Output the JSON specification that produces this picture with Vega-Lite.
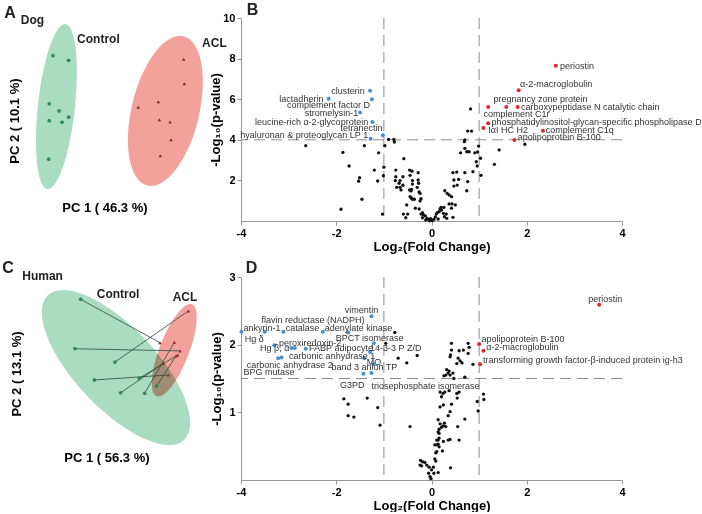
{
  "$schema": "https://vega.github.io/schema/vega-lite/v6.json",
  "padding": {"left": 2, "top": 2, "right": 0, "bottom": 0},
  "background": "white",
  "config": {
    "font": "Liberation Sans",
    "view": {"stroke": null},
    "axis": {
      "grid": false, "domainColor": "#999999", "tickColor": "#999999", "tickSize": 4,
      "labelFont": "Liberation Sans", "labelFontSize": 11, "labelFontWeight": "bold", "labelColor": "#000000", "labelPadding": 2, "labelFlush": false,
      "titleFont": "Liberation Sans", "titleFontSize": 13, "titleFontWeight": "bold", "titleColor": "#000000"
    }
  },
  "datasets": {
    "dogPCA": [
      {"group": "Control", "pc1": -3.76, "pc2": 2.85}, {"group": "Control", "pc1": -2.91, "pc2": 2.58},
      {"group": "Control", "pc1": -3.96, "pc2": 0.10}, {"group": "Control", "pc1": -3.43, "pc2": -0.31},
      {"group": "Control", "pc1": -3.96, "pc2": -0.87}, {"group": "Control", "pc1": -3.27, "pc2": -0.96},
      {"group": "Control", "pc1": -2.91, "pc2": -0.67}, {"group": "Control", "pc1": -3.99, "pc2": -3.07},
      {"group": "ACL", "pc1": 3.31, "pc2": 2.64}, {"group": "ACL", "pc1": 3.34, "pc2": 1.25},
      {"group": "ACL", "pc1": 1.94, "pc2": 0.22}, {"group": "ACL", "pc1": 0.85, "pc2": -0.10},
      {"group": "ACL", "pc1": 1.99, "pc2": -0.81}, {"group": "ACL", "pc1": 2.57, "pc2": -0.94},
      {"group": "ACL", "pc1": 2.62, "pc2": -1.95}, {"group": "ACL", "pc1": 2.04, "pc2": -2.87}
    ],
    "dogEllipse": [
      {"group": "Control", "pc1": -3.57, "pc2": -0.06},
      {"group": "ACL", "pc1": 2.32, "pc2": -0.31}
    ],
    "humanPCA": [
      {"pair": 1, "group": "Control", "pc1": -2.26, "pc2": 3.67}, {"pair": 2, "group": "Control", "pc1": -2.57, "pc2": 0.73},
      {"pair": 3, "group": "Control", "pc1": -0.41, "pc2": -0.06}, {"pair": 4, "group": "Control", "pc1": -1.52, "pc2": -1.13},
      {"pair": 5, "group": "Control", "pc1": 0.91, "pc2": -1.03}, {"pair": 6, "group": "Control", "pc1": -0.10, "pc2": -1.89},
      {"pair": 7, "group": "Control", "pc1": 1.20, "pc2": -1.92}, {"pair": 8, "group": "Control", "pc1": 1.85, "pc2": -1.49},
      {"pair": 1, "group": "ACL", "pc1": 2.03, "pc2": 1.09}, {"pair": 2, "group": "ACL", "pc1": 3.11, "pc2": 0.60},
      {"pair": 3, "group": "ACL", "pc1": 3.56, "pc2": 2.98}, {"pair": 4, "group": "ACL", "pc1": 2.48, "pc2": -0.83},
      {"pair": 5, "group": "ACL", "pc1": 2.98, "pc2": 0.36}, {"pair": 6, "group": "ACL", "pc1": 2.21, "pc2": -0.14},
      {"pair": 7, "group": "ACL", "pc1": 2.80, "pc2": 1.11}, {"pair": 8, "group": "ACL", "pc1": 2.89, "pc2": 0.30}
    ],
    "humanEllipse": [
      {"group": "Control", "pc1": -0.35, "pc2": -0.39},
      {"group": "ACL", "pc1": 2.80, "pc2": 0.64}
    ],
    "dogVolcano": [
      {"fc": -2.64, "p": 3.71, "reg": "ns"}, {"fc": -1.86, "p": 3.38, "reg": "ns"}, {"fc": -1.73, "p": 2.71, "reg": "ns"},
      {"fc": -1.41, "p": 3.71, "reg": "ns"}, {"fc": -1.20, "p": 2.51, "reg": "ns"}, {"fc": -1.11, "p": 3.36, "reg": "ns"},
      {"fc": -1.13, "p": 1.97, "reg": "ns"}, {"fc": -1.51, "p": 2.13, "reg": "ns"}, {"fc": -1.53, "p": 1.96, "reg": "ns"},
      {"fc": -1.46, "p": 1.07, "reg": "ns"}, {"fc": -1.90, "p": 0.58, "reg": "ns"}, {"fc": -0.98, "p": 3.71, "reg": "ns"},
      {"fc": -0.90, "p": 4.02, "reg": "ns"}, {"fc": -0.79, "p": 4.02, "reg": "ns"}, {"fc": -0.78, "p": 3.89, "reg": "ns"},
      {"fc": -1.00, "p": 2.65, "reg": "ns"}, {"fc": -1.01, "p": 2.23, "reg": "ns"}, {"fc": -1.03, "p": 0.34, "reg": "ns"},
      {"fc": -0.75, "p": 2.51, "reg": "ns"}, {"fc": -0.75, "p": 2.18, "reg": "ns"}, {"fc": -0.76, "p": 1.99, "reg": "ns"},
      {"fc": -0.58, "p": 3.07, "reg": "ns"}, {"fc": -0.66, "p": 1.99, "reg": "ns"}, {"fc": -0.68, "p": 1.86, "reg": "ns"},
      {"fc": -0.64, "p": 1.53, "reg": "ns"}, {"fc": -0.60, "p": 2.18, "reg": "ns"}, {"fc": -0.73, "p": 1.66, "reg": "ns"},
      {"fc": -0.66, "p": 1.66, "reg": "ns"}, {"fc": -0.60, "p": 1.76, "reg": "ns"}, {"fc": -0.52, "p": 0.79, "reg": "ns"},
      {"fc": -0.50, "p": 0.34, "reg": "ns"}, {"fc": -0.59, "p": 0.34, "reg": "ns"}, {"fc": -0.54, "p": 0.16, "reg": "ns"},
      {"fc": -0.46, "p": 2.51, "reg": "ns"}, {"fc": -0.41, "p": 2.45, "reg": "ns"}, {"fc": -0.45, "p": 2.25, "reg": "ns"},
      {"fc": -0.40, "p": 1.99, "reg": "ns"}, {"fc": -0.40, "p": 1.82, "reg": "ns"}, {"fc": -0.42, "p": 1.56, "reg": "ns"},
      {"fc": -0.46, "p": 1.53, "reg": "ns"}, {"fc": -0.43, "p": 1.48, "reg": "ns"}, {"fc": -0.45, "p": 1.20, "reg": "ns"},
      {"fc": -0.42, "p": 1.12, "reg": "ns"}, {"fc": -0.40, "p": 1.07, "reg": "ns"}, {"fc": -0.36, "p": 1.07, "reg": "ns"},
      {"fc": -0.28, "p": 2.38, "reg": "ns"}, {"fc": -0.28, "p": 2.02, "reg": "ns"}, {"fc": -0.30, "p": 1.66, "reg": "ns"},
      {"fc": -0.27, "p": 1.86, "reg": "ns"}, {"fc": -0.26, "p": 1.43, "reg": "ns"}, {"fc": -0.24, "p": 1.36, "reg": "ns"},
      {"fc": -0.22, "p": 1.10, "reg": "ns"}, {"fc": -0.24, "p": 0.99, "reg": "ns"}, {"fc": -0.34, "p": 0.63, "reg": "ns"},
      {"fc": -0.26, "p": 0.59, "reg": "ns"}, {"fc": -0.22, "p": 0.34, "reg": "ns"}, {"fc": -0.19, "p": 0.16, "reg": "ns"},
      {"fc": -0.19, "p": 0.41, "reg": "ns"}, {"fc": -0.17, "p": 0.31, "reg": "ns"}, {"fc": -0.13, "p": 0.25, "reg": "ns"},
      {"fc": -0.09, "p": 0.13, "reg": "ns"}, {"fc": -0.06, "p": 0.08, "reg": "ns"}, {"fc": -0.04, "p": 0.01, "reg": "ns"},
      {"fc": 0.00, "p": 0.05, "reg": "ns"}, {"fc": 0.05, "p": 0.08, "reg": "ns"}, {"fc": 0.10, "p": 0.34, "reg": "ns"},
      {"fc": 0.12, "p": 0.41, "reg": "ns"}, {"fc": 0.16, "p": 0.46, "reg": "ns"}, {"fc": 0.18, "p": 0.59, "reg": "ns"},
      {"fc": 0.20, "p": 0.67, "reg": "ns"}, {"fc": 0.21, "p": 0.54, "reg": "ns"}, {"fc": 0.25, "p": 0.38, "reg": "ns"},
      {"fc": 0.26, "p": 0.67, "reg": "ns"}, {"fc": 0.27, "p": 0.21, "reg": "ns"}, {"fc": 0.31, "p": 0.34, "reg": "ns"},
      {"fc": 0.32, "p": 0.13, "reg": "ns"}, {"fc": 0.45, "p": 0.18, "reg": "ns"}, {"fc": 0.42, "p": 0.63, "reg": "ns"},
      {"fc": 0.37, "p": 0.84, "reg": "ns"}, {"fc": 0.28, "p": 1.49, "reg": "ns"}, {"fc": 0.33, "p": 1.36, "reg": "ns"},
      {"fc": 0.37, "p": 1.28, "reg": "ns"}, {"fc": 0.42, "p": 1.20, "reg": "ns"}, {"fc": 0.43, "p": 0.84, "reg": "ns"},
      {"fc": 0.47, "p": 2.02, "reg": "ns"}, {"fc": 0.53, "p": 2.41, "reg": "ns"}, {"fc": 0.45, "p": 2.38, "reg": "ns"},
      {"fc": 0.57, "p": 2.05, "reg": "ns"}, {"fc": 0.47, "p": 1.72, "reg": "ns"}, {"fc": 0.54, "p": 1.77, "reg": "ns"},
      {"fc": 0.50, "p": 0.79, "reg": "ns"}, {"fc": 0.61, "p": 3.36, "reg": "ns"}, {"fc": 0.69, "p": 3.91, "reg": "ns"},
      {"fc": 0.70, "p": 3.58, "reg": "ns"}, {"fc": 0.74, "p": 3.41, "reg": "ns"}, {"fc": 0.79, "p": 3.41, "reg": "ns"},
      {"fc": 0.70, "p": 2.38, "reg": "ns"}, {"fc": 0.74, "p": 1.49, "reg": "ns"}, {"fc": 0.76, "p": 1.94, "reg": "ns"},
      {"fc": 0.87, "p": 2.43, "reg": "ns"}, {"fc": 0.91, "p": 3.36, "reg": "ns"}, {"fc": 0.97, "p": 3.40, "reg": "ns"},
      {"fc": 0.94, "p": 2.92, "reg": "ns"}, {"fc": 0.96, "p": 2.71, "reg": "ns"}, {"fc": 0.99, "p": 3.69, "reg": "ns"},
      {"fc": 1.03, "p": 3.09, "reg": "ns"}, {"fc": 1.04, "p": 2.25, "reg": "ns"}, {"fc": 1.32, "p": 2.79, "reg": "ns"},
      {"fc": 1.42, "p": 3.50, "reg": "ns"}, {"fc": 1.96, "p": 3.78, "reg": "ns"}, {"fc": 0.82, "p": 5.52, "reg": "ns"},
      {"fc": 0.76, "p": 4.43, "reg": "ns"}, {"fc": 0.84, "p": 4.43, "reg": "ns"}, {"fc": 0.70, "p": 3.99, "reg": "ns"},
      {"fc": -0.12, "p": 0.05, "reg": "ns"}, {"fc": 0.02, "p": 0.02, "reg": "ns"}, {"fc": 0.08, "p": 0.20, "reg": "ns"},
      {"fc": -0.02, "p": 0.12, "reg": "ns"}, {"fc": 0.14, "p": 0.10, "reg": "ns"},
      {"protein": "clusterin", "fc": -1.29, "p": 6.42, "reg": "down"},
      {"protein": "lactadherin", "fc": -2.16, "p": 6.02, "reg": "down"},
      {"protein": "complement factor D", "fc": -1.25, "p": 6.00, "reg": "down"},
      {"protein": "stromelysin-1", "fc": -1.50, "p": 5.34, "reg": "down"},
      {"protein": "leucine-rich α-2-glycoprotein", "fc": -1.24, "p": 4.88, "reg": "down"},
      {"protein": "tetranectin", "fc": -1.02, "p": 4.22, "reg": "down"},
      {"protein": "hyaluronan & proteoglycan LP 1", "fc": -1.28, "p": 4.05, "reg": "down"},
      {"protein": "periostin", "fc": 2.61, "p": 7.65, "reg": "up"},
      {"protein": "α-2-macroglobulin", "fc": 1.83, "p": 6.44, "reg": "up"},
      {"protein": "pregnancy zone protein", "fc": 1.57, "p": 5.62, "reg": "up"},
      {"protein": "carboxypeptidase N catalytic chain", "fc": 1.81, "p": 5.62, "reg": "up"},
      {"protein": "complement C1r", "fc": 1.19, "p": 5.62, "reg": "up"},
      {"protein": "phosphatidylinositol-glycan-specific phospholipase D", "fc": 1.19, "p": 4.81, "reg": "up"},
      {"protein": "IαI HC H2", "fc": 1.09, "p": 4.58, "reg": "up"},
      {"protein": "complement C1q", "fc": 2.34, "p": 4.45, "reg": "up"},
      {"protein": "apolipoprotein B-100", "fc": 1.74, "p": 3.99, "reg": "up"}
    ],
    "dogLabels": [
      {"protein": "clusterin", "fc": -1.40, "p": 6.42, "reg": "down"},
      {"protein": "lactadherin", "fc": -2.27, "p": 6.02, "reg": "down"},
      {"protein": "complement factor D", "fc": -1.29, "p": 5.71, "reg": "down"},
      {"protein": "stromelysin-1", "fc": -1.54, "p": 5.34, "reg": "down"},
      {"protein": "leucine-rich α-2-glycoprotein", "fc": -1.33, "p": 4.88, "reg": "down"},
      {"protein": "tetranectin", "fc": -1.03, "p": 4.60, "reg": "down"},
      {"protein": "hyaluronan & proteoglycan LP 1", "fc": -1.33, "p": 4.24, "reg": "down"},
      {"protein": "periostin", "fc": 2.70, "p": 7.65, "reg": "up"},
      {"protein": "α-2-macroglobulin", "fc": 1.86, "p": 6.75, "reg": "up"},
      {"protein": "pregnancy zone protein", "fc": 1.30, "p": 6.02, "reg": "up"},
      {"protein": "carboxypeptidase N catalytic chain", "fc": 1.88, "p": 5.62, "reg": "up"},
      {"protein": "complement C1r", "fc": 1.09, "p": 5.26, "reg": "up"},
      {"protein": "phosphatidylinositol-glycan-specific phospholipase D", "fc": 1.26, "p": 4.88, "reg": "up"},
      {"protein": "IαI HC H2", "fc": 1.19, "p": 4.48, "reg": "up"},
      {"protein": "complement C1q", "fc": 2.40, "p": 4.48, "reg": "up"},
      {"protein": "apolipoprotein B-100", "fc": 1.81, "p": 4.14, "reg": "up"}
    ],
    "humanVolcano": [
      {"fc": -0.77, "p": 2.18, "reg": "ns"}, {"fc": -0.96, "p": 2.02, "reg": "ns"}, {"fc": -0.70, "p": 1.80, "reg": "ns"},
      {"fc": -0.52, "p": 1.73, "reg": "ns"}, {"fc": -0.30, "p": 1.84, "reg": "ns"}, {"fc": 0.70, "p": 1.52, "reg": "ns"},
      {"fc": 0.47, "p": 1.50, "reg": "ns"}, {"fc": 0.42, "p": 2.02, "reg": "ns"}, {"fc": 0.42, "p": 1.92, "reg": "ns"},
      {"fc": 0.40, "p": 1.85, "reg": "ns"}, {"fc": 0.39, "p": 1.82, "reg": "ns"}, {"fc": 0.77, "p": 2.02, "reg": "ns"},
      {"fc": 0.58, "p": 1.91, "reg": "ns"}, {"fc": 0.67, "p": 1.92, "reg": "ns"}, {"fc": 0.77, "p": 1.87, "reg": "ns"},
      {"fc": 0.56, "p": 1.80, "reg": "ns"}, {"fc": 0.60, "p": 1.76, "reg": "ns"}, {"fc": 0.64, "p": 1.73, "reg": "ns"},
      {"fc": 0.53, "p": 1.72, "reg": "ns"}, {"fc": 0.87, "p": 1.71, "reg": "ns"}, {"fc": 0.79, "p": 1.96, "reg": "ns"},
      {"fc": 0.32, "p": 1.63, "reg": "ns"}, {"fc": 0.35, "p": 1.58, "reg": "ns"}, {"fc": 0.30, "p": 1.55, "reg": "ns"},
      {"fc": 0.39, "p": 1.55, "reg": "ns"}, {"fc": 0.45, "p": 1.58, "reg": "ns"}, {"fc": 0.26, "p": 1.54, "reg": "ns"},
      {"fc": 0.37, "p": 1.61, "reg": "ns"}, {"fc": 0.18, "p": 1.30, "reg": "ns"}, {"fc": 0.24, "p": 1.28, "reg": "ns"},
      {"fc": 0.28, "p": 1.30, "reg": "ns"}, {"fc": 0.37, "p": 1.32, "reg": "ns"}, {"fc": 0.21, "p": 1.23, "reg": "ns"},
      {"fc": 0.58, "p": 1.30, "reg": "ns"}, {"fc": 0.53, "p": 1.28, "reg": "ns"}, {"fc": 0.54, "p": 1.21, "reg": "ns"},
      {"fc": 0.96, "p": 1.16, "reg": "ns"}, {"fc": 0.98, "p": 1.02, "reg": "ns"}, {"fc": 1.09, "p": 1.27, "reg": "ns"},
      {"fc": 1.10, "p": 1.19, "reg": "ns"}, {"fc": 0.18, "p": 1.08, "reg": "ns"}, {"fc": 0.25, "p": 1.11, "reg": "ns"},
      {"fc": 0.39, "p": 1.01, "reg": "ns"}, {"fc": 0.42, "p": 1.12, "reg": "ns"}, {"fc": 0.35, "p": 0.95, "reg": "ns"},
      {"fc": 0.70, "p": 0.90, "reg": "ns"}, {"fc": -0.45, "p": 0.79, "reg": "ns"}, {"fc": 0.14, "p": 0.89, "reg": "ns"},
      {"fc": 0.18, "p": 0.83, "reg": "ns"}, {"fc": 0.21, "p": 0.78, "reg": "ns"}, {"fc": 0.16, "p": 0.75, "reg": "ns"},
      {"fc": 0.27, "p": 0.84, "reg": "ns"}, {"fc": 0.25, "p": 0.80, "reg": "ns"}, {"fc": 0.30, "p": 0.79, "reg": "ns"},
      {"fc": 0.55, "p": 0.79, "reg": "ns"}, {"fc": 0.14, "p": 0.71, "reg": "ns"}, {"fc": 0.16, "p": 0.69, "reg": "ns"},
      {"fc": 0.11, "p": 0.59, "reg": "ns"}, {"fc": 0.14, "p": 0.59, "reg": "ns"}, {"fc": 0.16, "p": 0.62, "reg": "ns"},
      {"fc": 0.35, "p": 0.59, "reg": "ns"}, {"fc": 0.39, "p": 0.60, "reg": "ns"}, {"fc": 0.58, "p": 0.59, "reg": "ns"},
      {"fc": 0.07, "p": 0.52, "reg": "ns"}, {"fc": 0.11, "p": 0.52, "reg": "ns"}, {"fc": 0.14, "p": 0.53, "reg": "ns"},
      {"fc": 0.16, "p": 0.49, "reg": "ns"}, {"fc": 0.25, "p": 0.57, "reg": "ns"}, {"fc": 0.23, "p": 0.43, "reg": "ns"},
      {"fc": 0.09, "p": 0.40, "reg": "ns"}, {"fc": 0.11, "p": 0.42, "reg": "ns"}, {"fc": 0.07, "p": 0.31, "reg": "ns"},
      {"fc": 0.09, "p": 0.28, "reg": "ns"}, {"fc": -0.23, "p": 0.29, "reg": "ns"}, {"fc": -0.19, "p": 0.27, "reg": "ns"},
      {"fc": -0.24, "p": 0.22, "reg": "ns"}, {"fc": -0.21, "p": 0.21, "reg": "ns"}, {"fc": -0.14, "p": 0.26, "reg": "ns"},
      {"fc": -0.10, "p": 0.22, "reg": "ns"}, {"fc": -0.05, "p": 0.19, "reg": "ns"}, {"fc": 0.04, "p": 0.19, "reg": "ns"},
      {"fc": 0.00, "p": 0.15, "reg": "ns"}, {"fc": 0.14, "p": 0.11, "reg": "ns"}, {"fc": 0.05, "p": 0.10, "reg": "ns"},
      {"fc": -0.06, "p": 0.10, "reg": "ns"}, {"fc": -0.03, "p": 0.05, "reg": "ns"}, {"fc": -0.01, "p": 0.02, "reg": "ns"},
      {"fc": 0.40, "p": 0.18, "reg": "ns"}, {"fc": -1.84, "p": 1.20, "reg": "ns"}, {"fc": -1.75, "p": 1.12, "reg": "ns"},
      {"fc": -1.75, "p": 0.95, "reg": "ns"}, {"fc": -1.63, "p": 0.93, "reg": "ns"}, {"fc": -1.35, "p": 1.21, "reg": "ns"},
      {"fc": -1.13, "p": 1.07, "reg": "ns"}, {"fc": -1.08, "p": 0.81, "reg": "ns"},
      {"protein": "ankyrin-1", "fc": -3.99, "p": 2.19, "reg": "down"},
      {"protein": "Hg δ", "fc": -3.50, "p": 2.19, "reg": "down"},
      {"protein": "catalase", "fc": -3.11, "p": 2.19, "reg": "down"},
      {"protein": "adenylate kinase", "fc": -2.28, "p": 2.19, "reg": "down"},
      {"protein": "flavin reductase (NADPH)", "fc": -1.75, "p": 2.18, "reg": "down"},
      {"protein": "vimentin", "fc": -1.26, "p": 2.42, "reg": "down"},
      {"protein": "BPCT isomerase", "fc": -1.21, "p": 2.02, "reg": "down"},
      {"protein": "peroxiredoxin-2", "fc": -3.30, "p": 1.99, "reg": "down"},
      {"protein": "Hg β, α", "fc": -2.94, "p": 1.95, "reg": "down"},
      {"protein": "band 3 anion TP", "fc": -2.87, "p": 1.95, "reg": "down"},
      {"protein": "FABP adipocyte", "fc": -2.64, "p": 1.94, "reg": "down"},
      {"protein": "14-3-3 P Z/D", "fc": -1.29, "p": 1.89, "reg": "down"},
      {"protein": "carbonic anhydrase 1", "fc": -1.41, "p": 1.80, "reg": "down"},
      {"protein": "MO", "fc": -1.22, "p": 1.71, "reg": "down"},
      {"protein": "carbonic anhydrase 2", "fc": -3.22, "p": 1.80, "reg": "down"},
      {"protein": "BPG mutase", "fc": -3.15, "p": 1.81, "reg": "down"},
      {"protein": "G3PD", "fc": -1.43, "p": 1.57, "reg": "down"},
      {"protein": "triosephosphate isomerase", "fc": -1.26, "p": 1.58, "reg": "down"},
      {"protein": "periostin", "fc": 3.52, "p": 2.59, "reg": "up"},
      {"protein": "apolipoprotein B-100", "fc": 1.00, "p": 2.01, "reg": "up"},
      {"protein": "α-2-macroglobulin", "fc": 1.09, "p": 1.91, "reg": "up"},
      {"protein": "transforming growth factor-β-induced protein ig-h3", "fc": 1.02, "p": 1.71, "reg": "up"}
    ],
    "humanLabels": [
      {"protein": "vimentin", "fc": -1.82, "p": 2.51},
      {"protein": "flavin reductase (NADPH)", "fc": -3.57, "p": 2.36},
      {"protein": "ankyrin-1", "fc": -3.95, "p": 2.25},
      {"protein": "catalase", "fc": -3.06, "p": 2.24},
      {"protein": "adenylate kinase", "fc": -2.24, "p": 2.25},
      {"protein": "Hg δ", "fc": -3.92, "p": 2.09},
      {"protein": "BPCT isomerase", "fc": -2.01, "p": 2.10},
      {"protein": "peroxiredoxin-2", "fc": -3.20, "p": 2.03},
      {"protein": "Hg β, α", "fc": -3.60, "p": 1.95},
      {"protein": "FABP adipocyte", "fc": -2.57, "p": 1.95},
      {"protein": "14-3-3 P Z/D", "fc": -1.29, "p": 1.95},
      {"protein": "carbonic anhydrase 1", "fc": -2.99, "p": 1.83},
      {"protein": "MO", "fc": -1.36, "p": 1.75},
      {"protein": "carbonic anhydrase 2", "fc": -3.88, "p": 1.70},
      {"protein": "band 3 anion TP", "fc": -2.10, "p": 1.67},
      {"protein": "BPG mutase", "fc": -3.95, "p": 1.60},
      {"protein": "G3PD", "fc": -1.92, "p": 1.40},
      {"protein": "triosephosphate isomerase", "fc": -1.26, "p": 1.39},
      {"protein": "periostin", "fc": 3.29, "p": 2.67},
      {"protein": "apolipoprotein B-100", "fc": 1.05, "p": 2.09},
      {"protein": "α-2-macroglobulin", "fc": 1.15, "p": 1.97},
      {"protein": "transforming growth factor-β-induced protein ig-h3", "fc": 1.08, "p": 1.77}
    ]
  },
  "columns": 2,
  "bounds": "flush",
  "spacing": {"row": 56, "column": 26},
  "concat": [
    {
      "width": 185, "height": 175,
      "encoding": {
        "x": {"field": "pc1", "type": "quantitative", "scale": {"domain": [-5, 5], "nice": false, "zero": false}, "axis": null},
        "y": {"field": "pc2", "type": "quantitative", "scale": {"domain": [-5, 5], "nice": false, "zero": false}, "axis": null}
      },
      "layer": [
        {"data": {"name": "dogEllipse"}, "transform": [{"filter": "datum.group === 'Control'"}],
         "mark": {"type": "point", "shape": "M0,-1C0.1232,-1,0.223,-0.5523,0.223,0C0.223,0.5523,0.1232,1,0,1C-0.1232,1,-0.223,0.5523,-0.223,0C-0.223,-0.5523,-0.1232,-1,0,-1Z", "size": 27556, "angle": 6.2, "filled": true, "fill": "#a9dcc1", "opacity": 1, "strokeWidth": 0}},
        {"data": {"name": "dogEllipse"}, "transform": [{"filter": "datum.group === 'ACL'"}],
         "mark": {"type": "point", "shape": "M0,-1C0.2436,-1,0.441,-0.5523,0.441,0C0.441,0.5523,0.2436,1,0,1C-0.2436,1,-0.441,0.5523,-0.441,0C-0.441,-0.5523,-0.2436,-1,0,-1Z", "size": 23532, "angle": 13.6, "filled": true, "fill": "#f2a29b", "opacity": 1, "strokeWidth": 0, "blend": "multiply"}},
        {"data": {"name": "dogPCA"}, "transform": [{"filter": "datum.group === 'Control'"}],
         "mark": {"type": "point", "shape": "circle", "size": 14, "filled": true, "color": "#2e8b57", "opacity": 1}},
        {"data": {"name": "dogPCA"}, "transform": [{"filter": "datum.group === 'ACL'"}],
         "mark": {"type": "point", "shape": "triangle-up", "size": 12, "filled": true, "color": "#8b2323", "opacity": 1}},
        {"data": {"values": [{"t": "A", "pc1": -6.08, "pc2": 5.31}]},
         "mark": {"type": "text", "fontSize": 16, "fontWeight": "bold", "color": "#222222", "baseline": "middle"}, "encoding": {"text": {"field": "t"}}},
        {"data": {"values": [{"t": "Dog", "pc1": -4.87, "pc2": 4.89}, {"t": "Control", "pc1": -1.30, "pc2": 3.80}, {"t": "ACL", "pc1": 4.97, "pc2": 3.57}]},
         "mark": {"type": "text", "fontSize": 12, "fontWeight": "bold", "color": "#222222", "baseline": "middle"}, "encoding": {"text": {"field": "t"}}},
        {"data": {"values": [{"t": "PC 1 ( 46.3 %)", "pc1": -0.95, "pc2": -5.86}]},
         "mark": {"type": "text", "fontSize": 13, "fontWeight": "bold", "color": "#000000", "baseline": "middle"}, "encoding": {"text": {"field": "t"}}},
        {"data": {"values": [{"t": "PC 2 ( 10.1 %)", "pc1": -5.81, "pc2": -0.89}]},
         "mark": {"type": "text", "fontSize": 13, "fontWeight": "bold", "color": "#000000", "baseline": "middle", "angle": 270}, "encoding": {"text": {"field": "t"}}}
      ]
    },
    {
      "width": 381, "height": 203,
      "layer": [
        {"data": {"values": [{}]}, "mark": {"type": "rule", "strokeDash": [11, 6], "color": "#8c8c8c", "strokeWidth": 1}, "encoding": {"x": {"datum": -1, "type": "quantitative"}}},
        {"data": {"values": [{}]}, "mark": {"type": "rule", "strokeDash": [11, 6], "color": "#8c8c8c", "strokeWidth": 1}, "encoding": {"x": {"datum": 1, "type": "quantitative"}}},
        {"data": {"values": [{}]}, "mark": {"type": "rule", "strokeDash": [11, 6], "color": "#8c8c8c", "strokeWidth": 1}, "encoding": {"y": {"datum": 4, "type": "quantitative"}}},
        {"data": {"name": "dogVolcano"}, "transform": [{"filter": "datum.reg === 'ns'"}],
         "mark": {"type": "circle", "size": 11, "color": "#111111", "opacity": 1},
         "encoding": {
           "x": {"field": "fc", "type": "quantitative", "scale": {"domain": [-4, 4], "nice": false, "zero": false}, "axis": {"values": [-4, -2, 0, 2, 4], "title": "Log₂(Fold Change)", "labelExpr": "'' + datum.value", "titlePadding": 2}},
           "y": {"field": "p", "type": "quantitative", "scale": {"domain": [0, 10], "nice": false, "zero": false}, "axis": {"values": [2, 4, 6, 8, 10], "title": "-Log₁₀(p-value)", "labelExpr": "'' + datum.value", "titlePadding": 0}}
         }},
        {"data": {"name": "dogVolcano"}, "transform": [{"filter": "datum.reg === 'down'"}],
         "mark": {"type": "circle", "size": 16, "color": "#4a8fd0", "opacity": 1},
         "encoding": {"x": {"field": "fc", "type": "quantitative"}, "y": {"field": "p", "type": "quantitative"}}},
        {"data": {"name": "dogVolcano"}, "transform": [{"filter": "datum.reg === 'up'"}],
         "mark": {"type": "circle", "size": 16, "color": "#e2262a", "opacity": 1},
         "encoding": {"x": {"field": "fc", "type": "quantitative"}, "y": {"field": "p", "type": "quantitative"}}},
        {"data": {"name": "dogLabels"}, "transform": [{"filter": "datum.reg === 'down'"}],
         "mark": {"type": "text", "align": "right", "baseline": "middle", "fontSize": 9, "color": "#333333"},
         "encoding": {"x": {"field": "fc", "type": "quantitative"}, "y": {"field": "p", "type": "quantitative"}, "text": {"field": "protein"}}},
        {"data": {"name": "dogLabels"}, "transform": [{"filter": "datum.reg === 'up'"}],
         "mark": {"type": "text", "align": "left", "baseline": "middle", "fontSize": 9, "color": "#333333"},
         "encoding": {"x": {"field": "fc", "type": "quantitative"}, "y": {"field": "p", "type": "quantitative"}, "text": {"field": "protein"}}},
        {"data": {"values": [{"t": "B", "fc": -3.76, "p": 10.39}]},
         "mark": {"type": "text", "fontSize": 16, "fontWeight": "bold", "color": "#222222", "baseline": "middle"},
         "encoding": {"x": {"field": "fc", "type": "quantitative"}, "y": {"field": "p", "type": "quantitative"}, "text": {"field": "t"}}}
      ]
    },
    {
      "width": 185, "height": 168,
      "encoding": {
        "x": {"field": "pc1", "type": "quantitative", "scale": {"domain": [-5, 5], "nice": false, "zero": false}, "axis": null},
        "y": {"field": "pc2", "type": "quantitative", "scale": {"domain": [-5, 5], "nice": false, "zero": false}, "axis": null}
      },
      "layer": [
        {"data": {"name": "humanEllipse"}, "transform": [{"filter": "datum.group === 'Control'"}],
         "mark": {"type": "point", "shape": "M0,-1C0.2248,-1,0.407,-0.5523,0.407,0C0.407,0.5523,0.2248,1,0,1C-0.2248,1,-0.407,0.5523,-0.407,0C-0.407,-0.5523,-0.2248,-1,0,-1Z", "size": 39521, "angle": -43.3, "filled": true, "fill": "#a9dcc1", "opacity": 1, "strokeWidth": 0}},
        {"data": {"name": "humanEllipse"}, "transform": [{"filter": "datum.group === 'ACL'"}],
         "mark": {"type": "point", "shape": "M0,-1C0.1657,-1,0.3,-0.5523,0.3,0C0.3,0.5523,0.1657,1,0,1C-0.1657,1,-0.3,0.5523,-0.3,0C-0.3,-0.5523,-0.1657,-1,0,-1Z", "size": 9722, "angle": 21, "filled": true, "fill": "#f2a29b", "opacity": 1, "strokeWidth": 0, "blend": "multiply"}},
        {"data": {"name": "humanPCA"},
         "mark": {"type": "line", "color": "#2f4a3c", "strokeWidth": 0.8},
         "encoding": {"detail": {"field": "pair"}}},
        {"data": {"name": "humanPCA"}, "transform": [{"filter": "datum.group === 'Control'"}],
         "mark": {"type": "point", "shape": "circle", "size": 14, "filled": true, "color": "#2e8b57", "opacity": 1}},
        {"data": {"name": "humanPCA"}, "transform": [{"filter": "datum.group === 'ACL'"}],
         "mark": {"type": "point", "shape": "triangle-up", "size": 12, "filled": true, "color": "#9b2530", "opacity": 1}},
        {"data": {"values": [{"t": "C", "pc1": -6.19, "pc2": 5.51}]},
         "mark": {"type": "text", "fontSize": 16, "fontWeight": "bold", "color": "#222222", "baseline": "middle"}, "encoding": {"text": {"field": "t"}}},
        {"data": {"values": [{"t": "Human", "pc1": -4.32, "pc2": 5.06}, {"t": "Control", "pc1": -0.24, "pc2": 3.99}, {"t": "ACL", "pc1": 3.38, "pc2": 3.83}]},
         "mark": {"type": "text", "fontSize": 12, "fontWeight": "bold", "color": "#222222", "baseline": "middle"}, "encoding": {"text": {"field": "t"}}},
        {"data": {"values": [{"t": "PC 1 ( 56.3 %)", "pc1": -0.84, "pc2": -5.77}]},
         "mark": {"type": "text", "fontSize": 13, "fontWeight": "bold", "color": "#000000", "baseline": "middle"}, "encoding": {"text": {"field": "t"}}},
        {"data": {"values": [{"t": "PC 2 ( 13.1 %)", "pc1": -5.72, "pc2": -0.77}]},
         "mark": {"type": "text", "fontSize": 13, "fontWeight": "bold", "color": "#000000", "baseline": "middle", "angle": 270}, "encoding": {"text": {"field": "t"}}}
      ]
    },
    {
      "width": 381, "height": 203,
      "layer": [
        {"data": {"values": [{}]}, "mark": {"type": "rule", "strokeDash": [11, 6], "color": "#8c8c8c", "strokeWidth": 1}, "encoding": {"x": {"datum": -1, "type": "quantitative"}}},
        {"data": {"values": [{}]}, "mark": {"type": "rule", "strokeDash": [11, 6], "color": "#8c8c8c", "strokeWidth": 1}, "encoding": {"x": {"datum": 1, "type": "quantitative"}}},
        {"data": {"values": [{}]}, "mark": {"type": "rule", "strokeDash": [11, 6], "color": "#8c8c8c", "strokeWidth": 1}, "encoding": {"y": {"datum": 1.5, "type": "quantitative"}}},
        {"data": {"name": "humanVolcano"}, "transform": [{"filter": "datum.reg === 'ns'"}],
         "mark": {"type": "circle", "size": 11, "color": "#111111", "opacity": 1},
         "encoding": {
           "x": {"field": "fc", "type": "quantitative", "scale": {"domain": [-4, 4], "nice": false, "zero": false}, "axis": {"values": [-4, -2, 0, 2, 4], "title": "Log₂(Fold Change)", "labelExpr": "'' + datum.value", "titlePadding": 2}},
           "y": {"field": "p", "type": "quantitative", "scale": {"domain": [0, 3], "nice": false, "zero": false}, "axis": {"values": [1, 2, 3], "title": "-Log₁₀(p-value)", "labelExpr": "'' + datum.value", "titlePadding": 5}}
         }},
        {"data": {"name": "humanVolcano"}, "transform": [{"filter": "datum.reg === 'down'"}],
         "mark": {"type": "circle", "size": 16, "color": "#4a8fd0", "opacity": 1},
         "encoding": {"x": {"field": "fc", "type": "quantitative"}, "y": {"field": "p", "type": "quantitative"}}},
        {"data": {"name": "humanVolcano"}, "transform": [{"filter": "datum.reg === 'up'"}],
         "mark": {"type": "circle", "size": 16, "color": "#e2262a", "opacity": 1},
         "encoding": {"x": {"field": "fc", "type": "quantitative"}, "y": {"field": "p", "type": "quantitative"}}},
        {"data": {"name": "humanLabels"},
         "mark": {"type": "text", "align": "left", "baseline": "middle", "fontSize": 9, "color": "#333333"},
         "encoding": {"x": {"field": "fc", "type": "quantitative"}, "y": {"field": "p", "type": "quantitative"}, "text": {"field": "protein"}}},
        {"data": {"values": [{"t": "D", "fc": -3.78, "p": 3.13}]},
         "mark": {"type": "text", "fontSize": 16, "fontWeight": "bold", "color": "#222222", "baseline": "middle"},
         "encoding": {"x": {"field": "fc", "type": "quantitative"}, "y": {"field": "p", "type": "quantitative"}, "text": {"field": "t"}}}
      ]
    }
  ]
}
